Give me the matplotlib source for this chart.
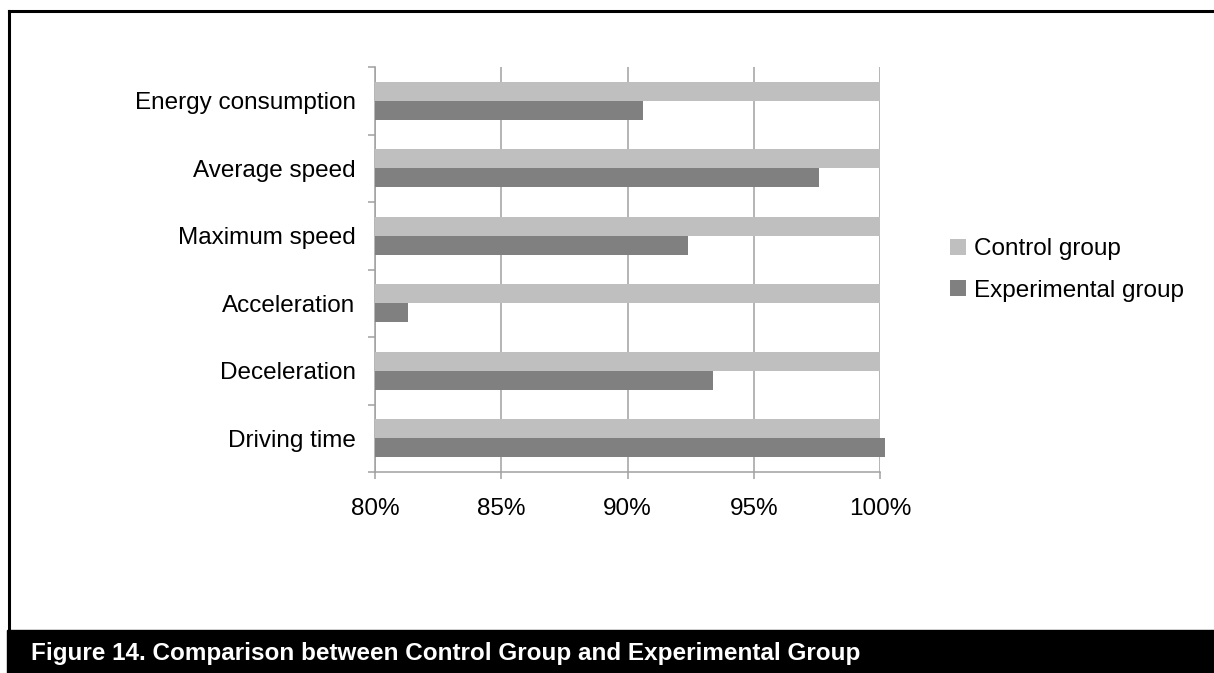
import numpy as np
import matplotlib
matplotlib.use("Agg")
import matplotlib.pyplot as plt
from matplotlib.lines import Line2D
from matplotlib.patches import Rectangle

categories = ["Energy consumption", "Average speed", "Maximum speed",
              "Acceleration", "Deceleration", "Driving time"]
control = [100, 100, 100, 100, 100, 100]
experimental = [90.6, 97.6, 92.4, 81.3, 93.4, 100.2]
xticks = [80, 85, 90, 95, 100]
xtick_labels = ["80%", "85%", "90%", "95%", "100%"]
caption = "Figure 14. Comparison between Control Group and Experimental Group"

plt.rcParams["font.family"] = ["Liberation Sans", "DejaVu Sans"]

W, H = 1214, 673
fig = plt.figure(figsize=(W / 100, H / 100), dpi=100)
ax = fig.add_axes([375 / W, 1 - 472 / H, (880 - 375) / W, (472 - 67) / H])

y = np.arange(len(categories))
h = 0.28
base = 80
ax.barh(y - h / 2, np.array(control) - base, h, left=base, color="#bfbfbf",
        label="Control group", clip_on=False, zorder=3)
ax.barh(y + h / 2, np.array(experimental) - base, h, left=base, color="#808080",
        label="Experimental group", clip_on=False, zorder=3)

ax.set_xlim(80, 100)
ax.set_ylim(len(categories) - 0.5, -0.5)
ax.set_xticks(xticks)
ax.set_xticklabels(xtick_labels, fontsize=17.5)
ax.set_yticks(y)
ax.set_yticklabels(categories, fontsize=17.5)
ax.set_yticks(np.arange(len(categories) + 1) - 0.5, minor=True)

gc = "#a0a0a0"
ax.grid(axis="x", color=gc, linewidth=1.1, zorder=0)
ax.tick_params(axis="y", which="major", length=0, pad=14)
ax.tick_params(axis="y", which="minor", length=5, width=1.1, color=gc)
ax.tick_params(axis="x", length=5, width=1.1, color=gc, pad=13.5)
for s in ["top", "right"]:
    ax.spines[s].set_visible(False)
for s in ["left", "bottom"]:
    ax.spines[s].set_color(gc)
    ax.spines[s].set_linewidth(1.1)

ax.legend(loc="center left", bbox_to_anchor=(950 / W, 1 - 270 / H),
          bbox_transform=fig.transFigure, frameon=False, fontsize=17.5,
          handlelength=0.65, handleheight=0.65, handletextpad=0.35,
          labelspacing=0.8, borderpad=0, borderaxespad=0)

# frame lines and caption bar
fig.add_artist(Line2D([9 / W, 9 / W], [1 - 11 / H, 43 / H], color="black",
                      linewidth=2.2, transform=fig.transFigure))
fig.add_artist(Line2D([9 / W, 1], [1 - 11 / H, 1 - 11 / H], color="black",
                      linewidth=2.2, transform=fig.transFigure))
fig.add_artist(Rectangle((7 / W, 0), 1 - 7 / W, 43 / H, color="black",
                         transform=fig.transFigure))
fig.text(31 / W, 13 / H, caption, color="white", fontsize=17.5,
         fontweight="bold", va="baseline", ha="left")

fig.savefig("out.png", dpi=100)
